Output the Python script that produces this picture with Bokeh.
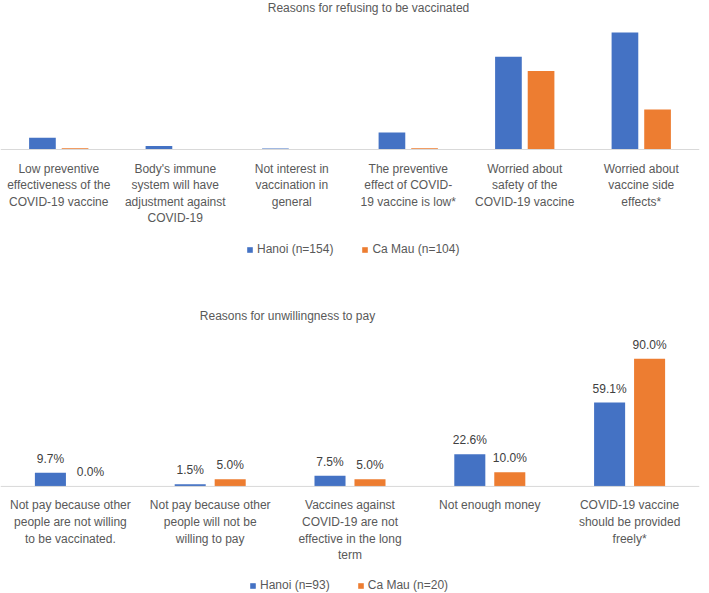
from bokeh.plotting import figure
from bokeh.models import Range1d, FactorRange, ColumnDataSource, Span, Legend, LegendItem, Label
from bokeh.transform import dodge
from bokeh.layouts import column
from bokeh.embed import file_html
from bokeh.resources import INLINE
from bokeh.core.properties import value

# ---------------- data ----------------
top_title = "Reasons for refusing to be vaccinated"
top_keys = ["r1", "r2", "r3", "r4", "r5", "r6"]
top_labels = [
    "Low preventive\neffectiveness of the\nCOVID-19 vaccine",
    "Body's immune\nsystem will have\nadjustment against\nCOVID-19",
    "Not interest in\nvaccination in\ngeneral",
    "The preventive\neffect of COVID-\n19 vaccine is low*",
    "Worried about\nsafety of the\nCOVID-19 vaccine",
    "Worried about\nvaccine side\neffects*",
]
top_hanoi = [8.4, 2.6, 0.65, 12.3, 66.9, 84.4]
top_camau = [0.96, 0.0, 0.0, 0.96, 56.7, 28.8]
top_series = ["Hanoi (n=154)", "Ca Mau (n=104)"]

bot_title = "Reasons for unwillingness to pay"
bot_keys = ["p1", "p2", "p3", "p4", "p5"]
bot_labels = [
    "Not pay because other\npeople are not willing\nto be vaccinated.",
    "Not pay because other\npeople will not be\nwilling to pay",
    "Vaccines against\nCOVID-19 are not\neffective in the long\nterm",
    "Not enough money",
    "COVID-19 vaccine\nshould be provided\nfreely*",
]
bot_hanoi = [9.7, 1.5, 7.5, 22.6, 59.1]
bot_camau = [0.0, 5.0, 5.0, 10.0, 90.0]
bot_series = ["Hanoi (n=93)", "Ca Mau (n=20)"]

BLUE = "#4472C4"
ORANGE = "#ED7D31"
TXT = "#595959"
FONT = "Liberation Sans"
W = 709


def base_fig(keys, height, ymin, ymax, right_border):
    p = figure(width=W, height=height, x_range=FactorRange(factors=keys, range_padding=0),
               y_range=Range1d(ymin, ymax), output_backend="svg", toolbar_location=None,
               x_axis_location=None, y_axis_location=None, min_border=0,
               min_border_right=right_border,
               outline_line_color=None, background_fill_color="white")
    p.xgrid.visible = False
    p.ygrid.visible = False
    p.add_layout(Span(location=0, dimension="width", line_color="#D9D9D9", line_width=1))
    return p


def add_bars(p, keys, hv, cv, labels, names, off, bw, legend_xy, spacing, show_values):
    src = ColumnDataSource(dict(k=keys, h=hv, c=cv, lab=labels,
                                ht=[f"{v:.1f}%" for v in hv], ct=[f"{v:.1f}%" for v in cv]))
    rh = p.vbar(x=dodge("k", -off, range=p.x_range), top="h", bottom=0, width=bw,
                source=src, fill_color=BLUE, line_color=None)
    rc = p.vbar(x=dodge("k", off, range=p.x_range), top="c", bottom=0, width=bw,
                source=src, fill_color=ORANGE, line_color=None)
    if show_values:
        for col, sgn in (("ht", -1), ("ct", 1)):
            p.text(x=dodge("k", sgn * off, range=p.x_range), y=col[0], text=col, source=src,
                   text_font=value(FONT), text_font_size="12px", text_color="#404040",
                   text_align="center", text_baseline="alphabetic", y_offset=-14)
    p.text(x="k", y=0, text="lab", source=src, text_font=value(FONT),
           text_font_size="12px", text_color=TXT, text_align="center",
           text_baseline="top", y_offset=12, text_line_height=1.19)
    leg = Legend(items=[LegendItem(label=names[0], renderers=[rh]),
                        LegendItem(label=names[1], renderers=[rc])],
                 orientation="horizontal", location=legend_xy,
                 glyph_width=7, glyph_height=7, label_height=14, label_standoff=4,
                 label_text_font=FONT, label_text_font_size="12px", label_text_color=TXT,
                 spacing=spacing, padding=0, margin=0, border_line_color=None,
                 background_fill_alpha=0)
    p.add_layout(leg)


# top chart
H1 = 285
p1 = base_fig(top_keys, H1, -98.1, 107.5, 1)
add_bars(p1, top_keys, top_hanoi, top_camau, top_labels, top_series,
         0.14, 0.229, (246, 29), 28, False)
p1.add_layout(Label(x=368, y=H1 - 7, x_units="screen", y_units="screen", text=top_title,
                    text_font=FONT, text_font_size="12px", text_color=TXT,
                    text_align="center", text_baseline="middle"))

# bottom chart
H2 = 308
p2 = base_fig(bot_keys, H2, -75.4, 141.5, 10)
add_bars(p2, bot_keys, bot_hanoi, bot_camau, bot_labels, bot_series,
         0.143, 0.222, (249, 1), 27, True)
p2.add_layout(Label(x=287, y=H2 - 30, x_units="screen", y_units="screen", text=bot_title,
                    text_font=FONT, text_font_size="12px", text_color=TXT,
                    text_align="center", text_baseline="middle"))

layout = column(p1, p2, spacing=0)
open("out.html", "w").write(file_html(layout, INLINE))
